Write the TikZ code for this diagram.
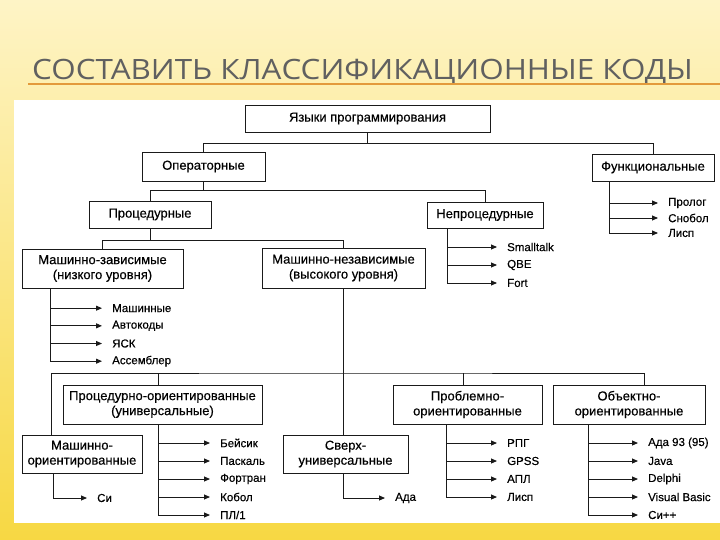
\documentclass[tikz,border=0pt]{standalone}
\usepackage{fontspec}
\setmainfont{Liberation Sans}
\newfontfamily\scanfont[FakeBold=0.35]{Liberation Sans}
\newfontfamily\titlefont{Open Sans}
\usetikzlibrary{arrows.meta,positioning,calc}
\definecolor{paper}{HTML}{FEF4C6}
\definecolor{straw}{HTML}{FBE795}
\definecolor{sun}{HTML}{F7D843}
\definecolor{ink}{HTML}{1A1A1A}
\definecolor{slate}{HTML}{606060}
\definecolor{rule}{HTML}{E39A3B}
\tikzset{box/.style={draw=ink,fill=white,align=center,inner sep=2pt,line width=0.9pt,
  font=\scanfont\fontsize{13}{15}\selectfont},
  leaf/.style={anchor=west,inner xsep=10pt,inner ysep=1pt,font=\scanfont\fontsize{11.5}{13}\selectfont},
  link/.style={draw=ink,line width=0.9pt},
  arrow/.style={-{Triangle[length=6pt,width=5pt]},line width=0.9pt,draw=ink}}

\begin{document}
\begin{tikzpicture}[x=1pt,y=-1pt]
\useasboundingbox (0,0) rectangle (720,540);
\shade[top color=paper,middle color=straw,bottom color=sun] (0,0) rectangle (720,540);
\fill[white] (14,100) rectangle (720,523);
\node[anchor=base west,inner sep=0,text=slate,font=\titlefont\fontsize{28}{30}\selectfont]
  (title) at (32,80) {\scalebox{1.12}[1]{СОСТАВИТЬ КЛАССИФИКАЦИОННЫЕ КОДЫ}};
\draw[rule,line width=2pt] (28,84) -- (720,84);
% boxes
\node[box,minimum width=245,minimum height=27] (lang) at (367.5,118.5) {Языки программирования};
\node[box,minimum width=123,minimum height=29] (oper) at (203.5,166.5) {Операторные};
\node[box,minimum width=122,minimum height=27] (func) at (653,167.5) {Функциональные};
\node[box,minimum width=122,minimum height=27] (proc) at (150,214.5) {Процедурные};
\node[box,minimum width=116,minimum height=26] (nproc) at (485,215) {Непроцедурные};
\node[box,minimum width=161,minimum height=39] (mdep) at (102.5,268.5) {Машинно-зависимые\\(низкого уровня)};
\node[box,minimum width=163,minimum height=40] (mind) at (343.5,268) {Машинно-независимые\\(высокого уровня)};
\node[box,minimum width=199,minimum height=39] (porient) at (162.5,404.5) {Процедурно-ориентированные\\(универсальные)};
\node[box,minimum width=120,minimum height=38] (morient) at (82,454) {Машинно-\\ориентированные};
\node[box,minimum width=125,minimum height=38] (super) at (345.5,454) {Сверх-\\универсальные};
\node[box,minimum width=149,minimum height=39] (probl) at (467.5,404.5) {Проблемно-\\ориентированные};
\node[box,minimum width=152,minimum height=39] (obj) at (629,404.5) {Объектно-\\ориентированные};
% tree links
\draw[link] (lang.south) -- ++(0,11) coordinate (j1);
\draw[link] (oper.north) |- (j1) -| (func.north);
\draw[link] (oper.south) -- ++(0,9) coordinate (j2);
\draw[link] (proc.north) |- (j2) -| (nproc.north);
\draw[link] (proc.south) -- ++(0,12) coordinate (j3);
\draw[link] (mdep.north) |- (j3) -| (mind.north);
\draw[link] (mind.south) -- (mind.south |- super.north);
\coordinate (j4) at (mind.south |- 0,373);
\draw[link] ([xshift=-31pt]morient.north) |- (j4) -| ([xshift=15pt]obj.north);
\draw[link] ([xshift=-4.5pt]porient.north) -- ([xshift=-4.5pt]porient.north |- j4);
\draw[link] ([xshift=-4.5pt]probl.north) -- ([xshift=-4.5pt]probl.north |- j4);
% leaves
\coordinate (fs) at ([xshift=-44pt]func.south);
\foreach \t [count=\i] in {Пролог,Снобол,Лисп}{
  \node[leaf] (f\i) at (658,188+15*\i) {\t};
  \draw[arrow] (f\i.west -| fs) -- (f\i.west);}
\draw[link] (fs) -- (fs |- f3.west);
\coordinate (ns) at ([xshift=-38pt]nproc.south);
\foreach \t [count=\i] in {Smalltalk,QBE,Fort}{
  \node[leaf] (n\i) at (497,229+18*\i) {\t};
  \draw[arrow] (n\i.west -| ns) -- (n\i.west);}
\draw[link] (ns) -- (ns |- n3.west);
\coordinate (ds) at ([xshift=-52.5pt]mdep.south);
\foreach \t [count=\i] in {Машинные,Автокоды,ЯСК,Ассемблер}{
  \node[leaf] (d\i) at (102,290.5+17.67*\i) {\t};
  \draw[arrow] (d\i.west -| ds) -- (d\i.west);}
\draw[link] (ds) -- (ds |- d4.west);
\coordinate (ps) at ([xshift=-4.5pt]porient.south);
\foreach \t [count=\i] in {Бейсик,Паскаль,Фортран,Кобол,ПЛ/1}{
  \node[leaf] (p\i) at (210,425+18*\i) {\t};
  \draw[arrow] (p\i.west -| ps) -- (p\i.west);}
\draw[link] (ps) -- (ps |- p5.west);
\coordinate (ms) at ([xshift=-29pt]morient.south);
\node[leaf] (m1) at (87,498) {Си};
\draw[arrow] (ms) |- (m1.west);
\node[leaf] (s1) at (385,498) {Ада};
\draw[arrow] (super.south -| mind.south) |- (s1.west);
\coordinate (bs) at ([xshift=-21.5pt]probl.south);
\foreach \t [count=\i] in {РПГ,GPSS,АПЛ,Лисп}{
  \node[leaf] (b\i) at (497,425+18*\i) {\t};
  \draw[arrow] (b\i.west -| bs) -- (b\i.west);}
\draw[link] (bs) -- (bs |- b4.west);
\coordinate (os) at ([xshift=-41pt]obj.south);
\foreach \t [count=\i] in {Ада 93 (95),Java,Delphi,Visual Basic,Си++}{
  \node[leaf] (o\i) at (638,425+18*\i) {\t};
  \draw[arrow] (o\i.west -| os) -- (o\i.west);}
\draw[link] (os) -- (os |- o5.west);
\end{tikzpicture}
\end{document}
